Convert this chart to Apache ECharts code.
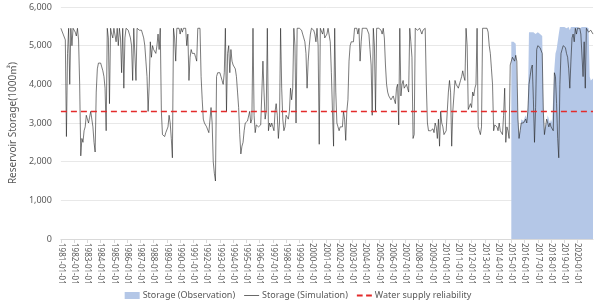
<!DOCTYPE html>
<html>
<head>
<meta charset="utf-8">
<script src="https://cdn.jsdelivr.net/npm/echarts@6/dist/echarts.min.js"></script>
<style>
  html, body { margin: 0; padding: 0; background: #fff; }
  #chart { width: 596px; height: 305px; }
</style>
</head>
<body>
<div id="chart"></div>
<script>
// monthly values, 1981-01 .. 2021-03 (1000 m3)
const FIRST_YEAR = 1981
const LAST_LABEL_YEAR = 2020
const SIMULATION = [
  5450, 5400, 5300, 5250, 5150, 2650, 4800, 5450, 4000, 5450, 5000, 5450, // 1981
  5450, 5350, 5250, 5450, 5150, 4000, 2150, 2600, 2500, 2800, 2900, 3200, // 1982
  3100, 3000, 3150, 3300, 3100, 2900, 2500, 2250, 3800, 4400, 4550, 4600, // 1983
  4550, 4450, 4350, 4200, 3900, 2800, 5450, 5200, 3500, 5450, 5300, 5200, // 1984
  5450, 5450, 5100, 5450, 5000, 5450, 5200, 4300, 5450, 3900, 5200, 5450, // 1985
  5450, 5400, 5300, 5200, 5000, 4100, 5450, 5450, 4100, 5450, 5450, 5400, // 1986
  5450, 5400, 5300, 5200, 5000, 4600, 4200, 3300, 4000, 5100, 4700, 5000, // 1987
  4900, 4950, 4800, 5000, 5300, 4900, 5450, 3300, 2700, 2700, 2650, 2750, // 1988
  2800, 2900, 3200, 3000, 2600, 2100, 5450, 5200, 4600, 5450, 5400, 5450, // 1989
  5300, 5450, 5350, 5450, 5450, 5450, 5000, 5300, 4100, 4700, 4900, 4800, // 1990
  4800, 4800, 4700, 4600, 5450, 5450, 5450, 4200, 3600, 3100, 3000, 2950, // 1991
  2900, 2850, 2750, 2700, 3400, 3000, 2000, 1700, 1500, 4200, 4300, 4250, // 1992
  4300, 4200, 4100, 4000, 4300, 5450, 3300, 4800, 5000, 4300, 4900, 4600, // 1993
  4500, 4500, 4400, 4200, 3800, 3400, 2700, 2200, 2400, 2500, 2800, 3000, // 1994
  3000, 3050, 3000, 3300, 3000, 3100, 5450, 3200, 2750, 2950, 2900, 2900, // 1995
  2900, 2950, 2900, 4600, 3800, 3100, 3300, 5450, 2800, 3000, 2900, 3000, // 1996
  2900, 2800, 3300, 3500, 3200, 2600, 3000, 5450, 3900, 3100, 2800, 2900, // 1997
  3200, 3150, 3100, 3300, 3900, 3600, 3900, 5450, 5000, 3000, 5450, 5400, // 1998
  5450, 5450, 5400, 5300, 5200, 5100, 4800, 3900, 4600, 5000, 5300, 5450, // 1999
  5450, 5400, 5300, 5100, 5450, 5000, 2450, 5450, 5450, 5300, 5450, 5200, // 2000
  5200, 5300, 5450, 5400, 5100, 4300, 3300, 2400, 5450, 3800, 3000, 2900, // 2001
  2800, 2900, 2850, 2900, 3300, 3100, 2550, 3300, 3600, 4600, 5000, 5100, // 2002
  5100, 5100, 5450, 5400, 5450, 5300, 5450, 4600, 5100, 5450, 5450, 5450, // 2003
  5450, 5450, 5400, 5300, 4900, 4500, 3200, 5450, 5000, 3300, 5450, 5450, // 2004
  5450, 5450, 5400, 5300, 5450, 5200, 4500, 4000, 3800, 3700, 3750, 3600, // 2005
  3600, 3700, 3600, 3500, 3900, 4000, 2950, 5450, 3700, 4000, 4100, 3900, // 2006
  3900, 4000, 3900, 3800, 5450, 5100, 4700, 2600, 2700, 5450, 5450, 5400, // 2007
  5450, 5450, 5400, 5300, 5400, 5450, 5450, 4000, 3000, 2800, 2850, 2800, // 2008
  2800, 2850, 2750, 3000, 2900, 2600, 3100, 2400, 3300, 3000, 2900, 2700, // 2009
  2750, 2800, 3300, 3800, 4100, 3800, 2400, 3300, 3700, 4100, 4000, 3950, // 2010
  3900, 3950, 4100, 4200, 4350, 4200, 4100, 5450, 5000, 3350, 3400, 3500, // 2011
  3400, 3800, 3700, 3900, 4000, 5450, 2900, 2800, 2700, 2900, 5450, 5450, // 2012
  5450, 5400, 5450, 5350, 5000, 4800, 4400, 4000, 2800, 2950, 3000, 2900, // 2013
  2800, 3000, 2800, 2750, 2700, 3200, 3900, 2500, 2900, 2800, 2600, 4500, // 2014
  4600, 4700, 4650, 4600, 4750, 4600, 3100, 2600, 2800, 3000, 3050, 3000, // 2015
  3000, 3100, 3000, 3300, 4000, 4200, 4400, 4500, 3600, 2500, 3400, 4900, // 2016
  5000, 5000, 4950, 4900, 4800, 3300, 2700, 2900, 3100, 3000, 2900, 3000, // 2017
  2900, 2900, 2800, 4300, 4200, 3500, 2600, 2100, 4000, 4800, 4900, 5000, // 2018
  5000, 4950, 4800, 4700, 4400, 3900, 4600, 5200, 5300, 5100, 5450, 5300, // 2019
  5450, 5400, 5450, 5300, 5350, 4200, 5100, 3900, 5450, 5400, 5350, 5300, // 2020
  5400, 5350, 5300                                                        // 2021
]
// observed storage, from 2015-01
const OBS_START_YEAR = 2015
const OBSERVATION = [
  5100, 5150, 5100, 5100, 5050, 5100, 3200, 2700, 2800, 3100, 3100, 3050, // 2015
  3100, 3200, 3100, 3400, 5350, 5350, 5350, 5300, 5350, 5300, 5300, 5300, // 2016
  5350, 5300, 5300, 5300, 5250, 3400, 2800, 2900, 3000, 3200, 3100, 3000, // 2017
  3100, 3000, 3000, 4400, 4800, 4900, 4900, 5300, 5480, 5480, 5480, 5480, // 2018
  5480, 5480, 5450, 5480, 5480, 5400, 5480, 5480, 5480, 5480, 5480, 5480, // 2019
  5480, 5480, 5450, 5480, 5480, 5480, 5480, 5480, 5480, 5480, 5450, 4200, // 2020
  4100, 4100, 4150                                                        // 2021
]
const RELIABILITY = 3300
const Y_MIN = 0, Y_MAX = 6000, Y_STEP = 1000

// category labels YYYY-MM-01
const DATES = SIMULATION.map((v, i) => {
  const y = FIRST_YEAR + Math.floor(i / 12)
  const m = (i % 12) + 1
  return y + '-' + (m < 10 ? '0' + m : m) + '-01'
})
const obsOffset = (OBS_START_YEAR - FIRST_YEAR) * 12
const obsData = DATES.map((d, i) => i >= obsOffset ? OBSERVATION[i - obsOffset] : null)
const relData = DATES.map(() => RELIABILITY)

const lastLabelIdx = (LAST_LABEL_YEAR - FIRST_YEAR) * 12
const isJan = (idx) => idx % 12 === 0 && idx <= lastLabelIdx
const FONT = '"Noto Sans", "Noto Sans CJK KR", sans-serif'

// legend glyphs: thin line and dashed line
const ICON_LINE = 'path://M0,0h20v0.9h-20z'
const ICON_DASH = 'path://M0,0h5v1.6h-5zM8,0h5v1.6h-5z'

const chart = echarts.init(document.getElementById('chart'), null, {renderer: 'canvas'})
const option = {
  animation: false,
  textStyle: {fontFamily: FONT},
  grid: {left: 54, right: 3, top: 7, bottom: 66},
  legend: {
    bottom: 0,
    left: 'center',
    itemWidth: 15,
    itemHeight: 7,
    itemGap: 9,
    symbolKeepAspect: true,
    textStyle: {fontSize: 9, color: '#595959', fontFamily: FONT, padding: [0, 0, 0, -2]},
    data: [
      {name: 'Storage (Observation)', icon: 'rect', itemWidth: 22},
      {name: 'Storage (Simulation)', icon: ICON_LINE},
      {name: 'Water supply reliability', icon: ICON_DASH}
    ]
  },
  xAxis: {
    type: 'category',
    data: DATES,
    boundaryGap: false,
    axisLine: {lineStyle: {color: '#d9d9d9'}},
    axisTick: {show: true, interval: isJan, length: 4, lineStyle: {color: '#d9d9d9'}},
    axisLabel: {
      interval: isJan,
      rotate: -90,
      margin: 4,
      fontSize: 8,
      color: '#595959',
      fontFamily: FONT
    },
    splitLine: {show: false}
  },
  yAxis: {
    type: 'value',
    min: Y_MIN,
    max: Y_MAX,
    interval: Y_STEP,
    name: 'Reservoir Storage(1000㎥)',
    nameLocation: 'middle',
    nameGap: 37,
    nameTextStyle: {fontSize: 10, color: '#595959', fontFamily: FONT},
    axisLine: {show: false},
    axisTick: {show: false},
    axisLabel: {
      fontSize: 9,
      color: '#595959',
      margin: 9,
      formatter: (v) => v.toLocaleString('en-US')
    },
    splitLine: {lineStyle: {color: '#e8e8e8'}}
  },
  series: [
    {
      name: 'Storage (Observation)',
      type: 'line',
      data: obsData,
      symbol: 'none',
      connectNulls: false,
      lineStyle: {width: 0, color: '#b4c7e7'},
      itemStyle: {color: '#b4c7e7'},
      areaStyle: {color: '#b4c7e7', opacity: 1},
      z: 1
    },
    {
      name: 'Storage (Simulation)',
      type: 'line',
      data: SIMULATION,
      symbol: 'none',
      lineStyle: {width: 0.6, color: '#222'},
      itemStyle: {color: '#222'},
      z: 2
    },
    {
      name: 'Water supply reliability',
      type: 'line',
      data: relData,
      symbol: 'none',
      lineStyle: {width: 1.5, color: '#e32b2b', type: [6, 4]},
      itemStyle: {color: '#e32b2b'},
      z: 3
    }
  ]
}
chart.setOption(option)
</script>
</body>
</html>
